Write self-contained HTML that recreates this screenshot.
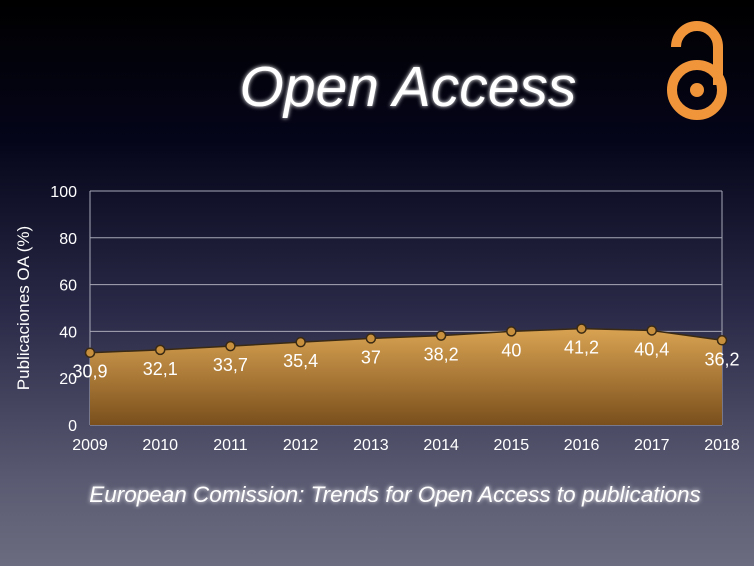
<!DOCTYPE html>
<html><head><meta charset="utf-8"><style>
html,body{margin:0;width:754px;height:566px;overflow:hidden}
body{background:linear-gradient(#000 0%,#05051a 25%,#2a2a48 55%,#5a5a72 85%,#6c6c80 100%);font-family:"Liberation Sans",sans-serif}
svg{display:block}
</style></head><body>
<svg width="754" height="566">
<defs>
<linearGradient id="fill" x1="0" y1="0" x2="0" y2="1"><stop offset="0" stop-color="#d9a352"/><stop offset="1" stop-color="#7a4f1c"/></linearGradient>
<filter id="glow"><feGaussianBlur stdDeviation="2" result="b"/><feMerge><feMergeNode in="b"/><feMergeNode in="SourceGraphic"/></feMerge></filter>
</defs>
<text x="408" y="106" text-anchor="middle" fill="#fff" font-size="57" font-style="italic" filter="url(#glow)">Open Access</text>
<g fill="none" stroke="#f0953a" stroke-width="10">
<circle cx="697" cy="90" r="25"/>
<path d="M676,47 A21,21 0 0 1 718,47 L718,85"/>
<circle cx="697" cy="90" r="7" fill="#f0953a" stroke="none"/>
</g>
<g id="grid"></g><g id="area"></g><g id="axes"></g>
<text transform="translate(29,308) rotate(-90)" text-anchor="middle" fill="#fff" font-size="17">Publicaciones OA (%)</text>
<text x="395" y="502" text-anchor="middle" fill="#fff" font-size="22.5" font-style="italic" filter="url(#glow)">European Comission: Trends for Open Access to publications</text>
</svg>
<script>
const years=["2009","2010","2011","2012","2013","2014","2015","2016","2017","2018"];
const values=[30.9,32.1,33.7,35.4,37,38.2,40,41.2,40.4,36.2];
const labels=["30,9","32,1","33,7","35,4","37","38,2","40","41,2","40,4","36,2"];
const yTicks=[0,20,40,60,80,100];
const NS="http://www.w3.org/2000/svg";
const X=i=>90+i*(722-90)/(years.length-1), Y=v=>425-v*2.34;
function mk(t,a,p){const e=document.createElementNS(NS,t);for(const k in a)e.setAttribute(k,a[k]);p.appendChild(e);return e;}
const g=document.getElementById('grid'),ar=document.getElementById('area'),ax=document.getElementById('axes');
yTicks.forEach(v=>{const l=mk('line',{x1:90,x2:722,y1:Y(v),y2:Y(v),stroke:'#a8a8b8','stroke-width':1},g);

const t=mk('text',{x:77,y:Y(v)+6,'text-anchor':'end',fill:'#fff','font-size':16},ax);t.textContent=v;
});
mk('line',{x1:722,x2:722,y1:191,y2:425,stroke:'#a8a8b8'},g);
mk('line',{x1:90,x2:90,y1:191,y2:425,stroke:'#a8a8b8'},g);
let d='M'+X(0)+','+Y(0);values.forEach((v,i)=>d+=' L'+X(i)+','+Y(v));d+=' L'+X(values.length-1)+','+Y(0)+'Z';
const p=mk('path',{d:d,fill:'url(#fill)'},ar);
let ld='';values.forEach((v,i)=>ld+=(i?' L':'M')+X(i)+','+Y(v));mk('path',{d:ld,fill:'none',stroke:'#3a2a14','stroke-width':1.5},ar);
values.forEach((v,i)=>{const c=mk('circle',{cx:X(i),cy:Y(v),r:4.5,fill:'#c8903c',stroke:'#3a2a14','stroke-width':1.5},ar);

const t=mk('text',{x:X(i),y:Y(v)+25,'text-anchor':'middle',fill:'#fff','font-size':18},ax);t.textContent=labels[i];

const yt=mk('text',{x:X(i),y:450,'text-anchor':'middle',fill:'#fff','font-size':16},ax);yt.textContent=years[i];
});
</script>
</body></html>
